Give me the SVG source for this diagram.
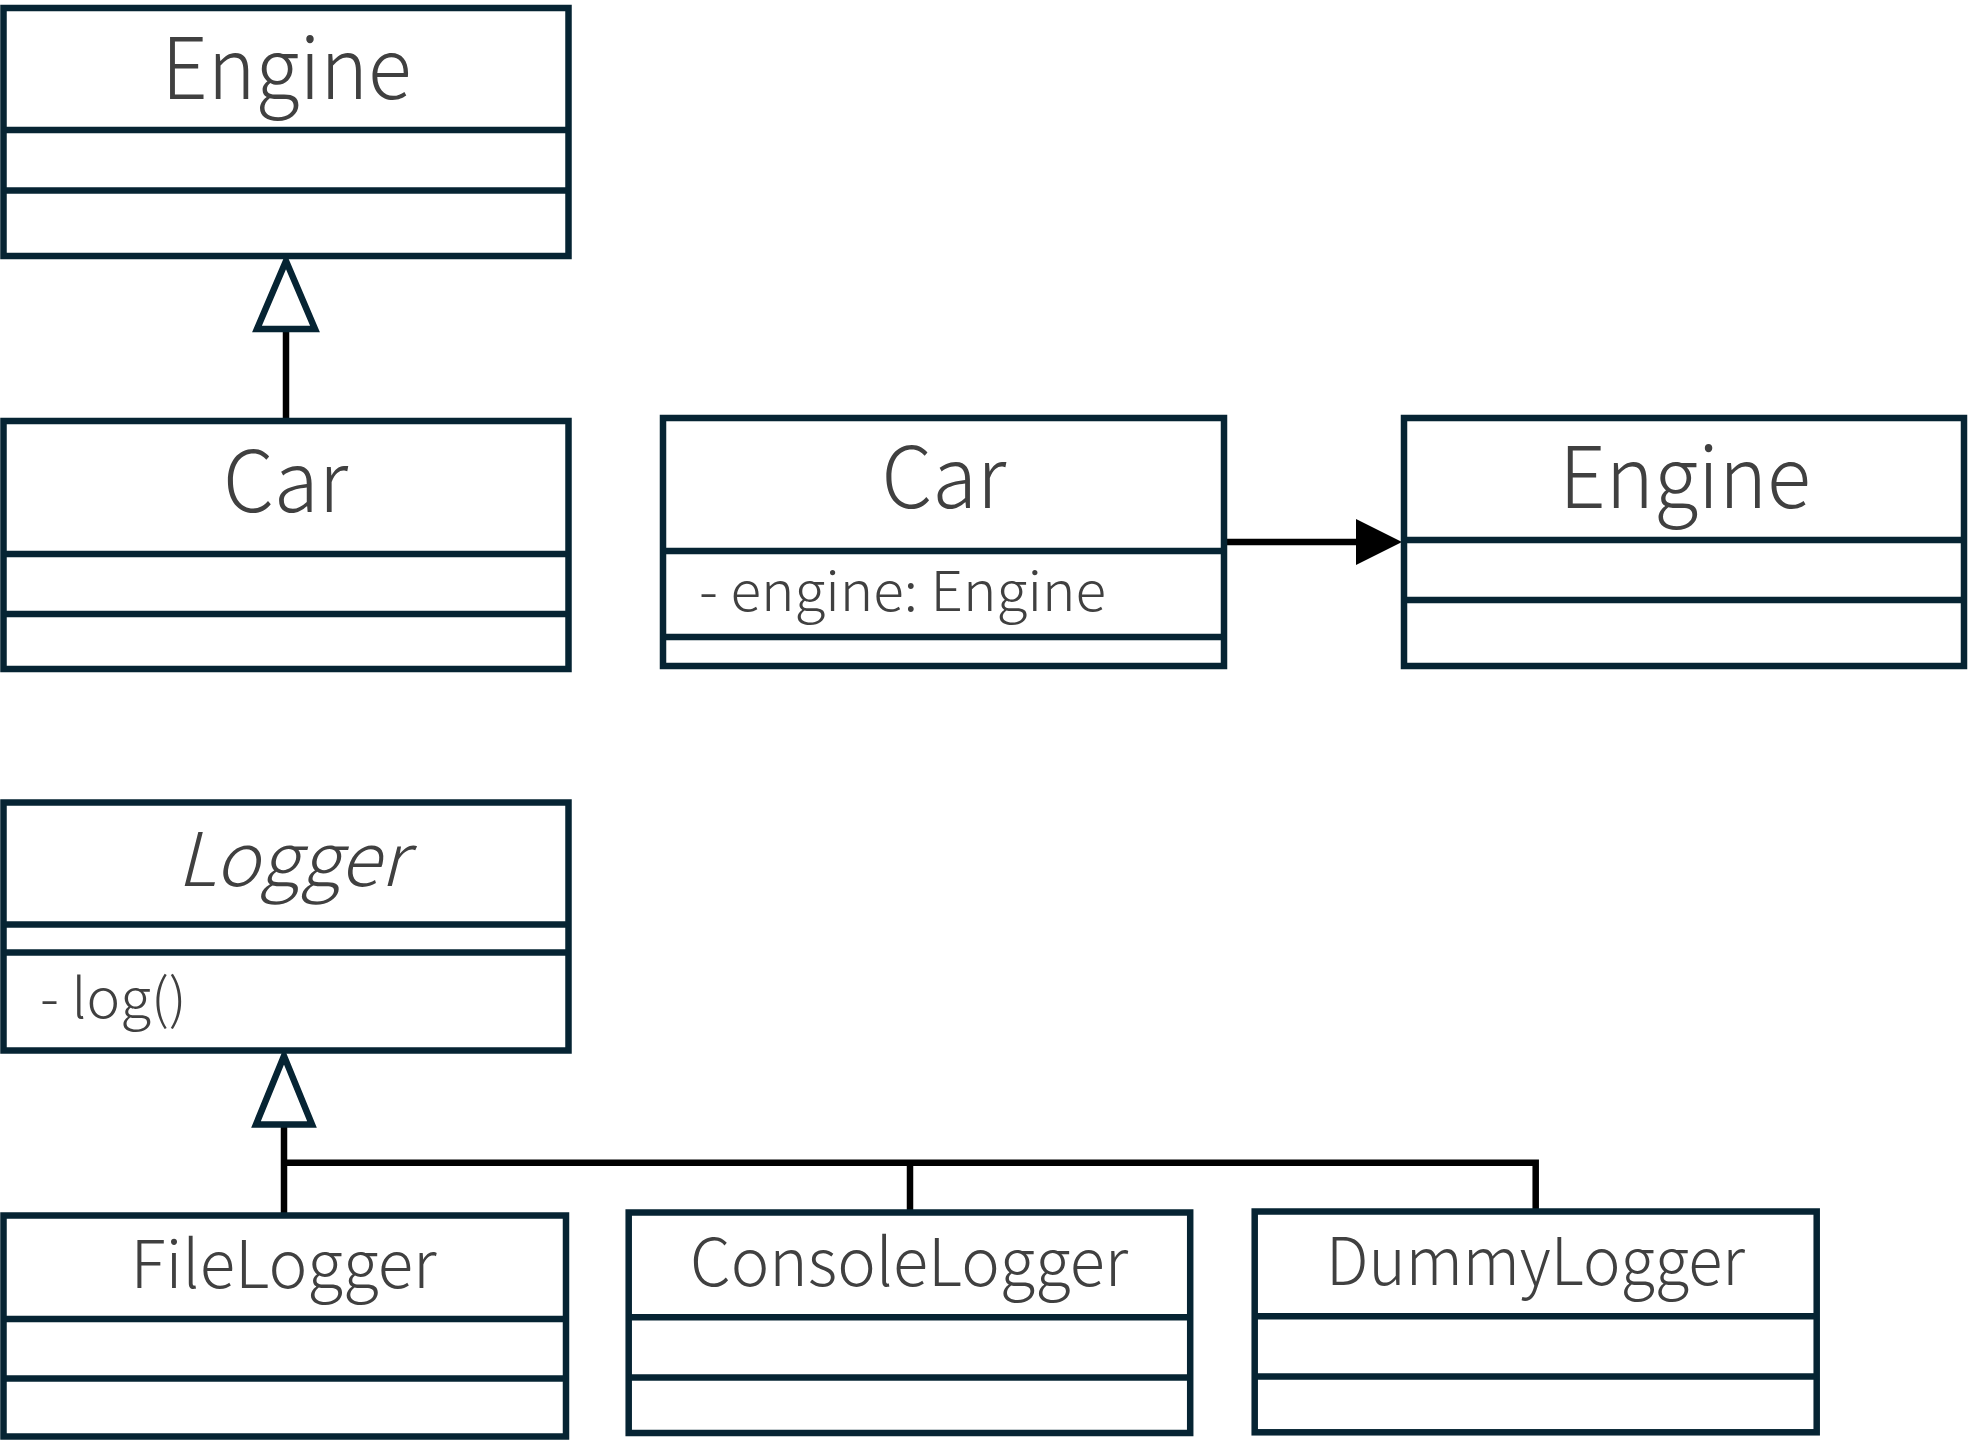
<svg xmlns="http://www.w3.org/2000/svg" width="1968" height="1440" viewBox="0 0 1968 1440">
<style>
.box{fill:#ffffff;stroke:#062433;stroke-width:6.5}
.div{stroke:#062433;stroke-width:6.5}
.t{font-family:"Noto Sans CJK JP","Noto Sans",sans-serif;font-weight:300;fill:#404040;text-anchor:middle}
.big{font-size:85px}
.mid{font-size:66px}
.sm{font-size:55px;text-anchor:start}
.conn{fill:none;stroke:#000000;stroke-width:6.5}
.gen{fill:#ffffff;stroke:#062433;stroke-width:6.5}
</style>
<rect width="1968" height="1440" fill="#ffffff"/>
<g id="connectors">
<line class="conn" x1="286" y1="421" x2="286" y2="329"/>
<polygon class="gen" points="286,261 257,329 315,329"/>
<line class="conn" x1="1224" y1="542" x2="1360" y2="542"/>
<polygon points="1356,519 1402,542 1356,565" fill="#000000"/>
<line class="conn" x1="284" y1="1215.5" x2="284" y2="1124.5"/>
<polyline class="conn" points="284,1162.7 1535.7,1162.7 1535.7,1211.5"/>
<line class="conn" x1="910" y1="1162.7" x2="910" y2="1212.5"/>
<polygon class="gen" points="284,1056 256,1124.5 312,1124.5"/>
</g>
<g id="engine1">
<rect class="box" x="3.5" y="8" width="565" height="248"/>
<line class="div" x1="3.5" y1="130" x2="568.5" y2="130"/>
<line class="div" x1="3.5" y1="190.5" x2="568.5" y2="190.5"/>
<text class="t big" x="286.5" y="99" textLength="250" lengthAdjust="spacingAndGlyphs">Engine</text>
</g>
<g id="car1">
<rect class="box" x="3.5" y="421" width="565" height="248"/>
<line class="div" x1="3.5" y1="554" x2="568.5" y2="554"/>
<line class="div" x1="3.5" y1="614" x2="568.5" y2="614"/>
<text class="t big" x="285.5" y="512" textLength="125" lengthAdjust="spacingAndGlyphs">Car</text>
</g>
<g id="car2">
<rect class="box" x="663" y="418" width="561" height="248"/>
<line class="div" x1="663" y1="551" x2="1224" y2="551"/>
<line class="div" x1="663" y1="637" x2="1224" y2="637"/>
<text class="t big" x="943.8" y="508" textLength="124.5" lengthAdjust="spacingAndGlyphs">Car</text>
<text class="t sm" x="699" y="611" textLength="407" lengthAdjust="spacingAndGlyphs">- engine: Engine</text>
</g>
<g id="engine2">
<rect class="box" x="1404" y="418" width="560" height="248"/>
<line class="div" x1="1404" y1="540" x2="1964" y2="540"/>
<line class="div" x1="1404" y1="600" x2="1964" y2="600"/>
<text class="t big" x="1685" y="508" textLength="251.5" lengthAdjust="spacingAndGlyphs">Engine</text>
</g>
<g id="logger">
<rect class="box" x="3.5" y="802.5" width="565" height="248"/>
<line class="div" x1="3.5" y1="924.5" x2="568.5" y2="924.5"/>
<line class="div" x1="3.5" y1="952.5" x2="568.5" y2="952.5"/>
<text class="t" x="291.8" y="886" font-size="74" font-style="italic" textLength="230" lengthAdjust="spacingAndGlyphs">Logger</text>
<text class="t sm" x="40" y="1018" textLength="146.7" lengthAdjust="spacingAndGlyphs">- log()</text>
</g>
<g id="filelogger">
<rect class="box" x="3.5" y="1215.5" width="562.5" height="221"/>
<line class="div" x1="3.5" y1="1319" x2="566" y2="1319"/>
<line class="div" x1="3.5" y1="1378.5" x2="566" y2="1378.5"/>
<text class="t mid" x="283.6" y="1288" textLength="306" lengthAdjust="spacingAndGlyphs">FileLogger</text>
</g>
<g id="consolelogger">
<rect class="box" x="628.7" y="1212.5" width="561.5" height="220.5"/>
<line class="div" x1="628.7" y1="1317.3" x2="1190.2" y2="1317.3"/>
<line class="div" x1="628.7" y1="1377.5" x2="1190.2" y2="1377.5"/>
<text class="t mid" x="909" y="1286" textLength="438" lengthAdjust="spacingAndGlyphs">ConsoleLogger</text>
</g>
<g id="dummylogger">
<rect class="box" x="1254.7" y="1211.5" width="562" height="220.8"/>
<line class="div" x1="1254.7" y1="1316.3" x2="1816.7" y2="1316.3"/>
<line class="div" x1="1254.7" y1="1376.5" x2="1816.7" y2="1376.5"/>
<text class="t mid" x="1535.5" y="1285" textLength="419" lengthAdjust="spacingAndGlyphs">DummyLogger</text>
</g>
</svg>
